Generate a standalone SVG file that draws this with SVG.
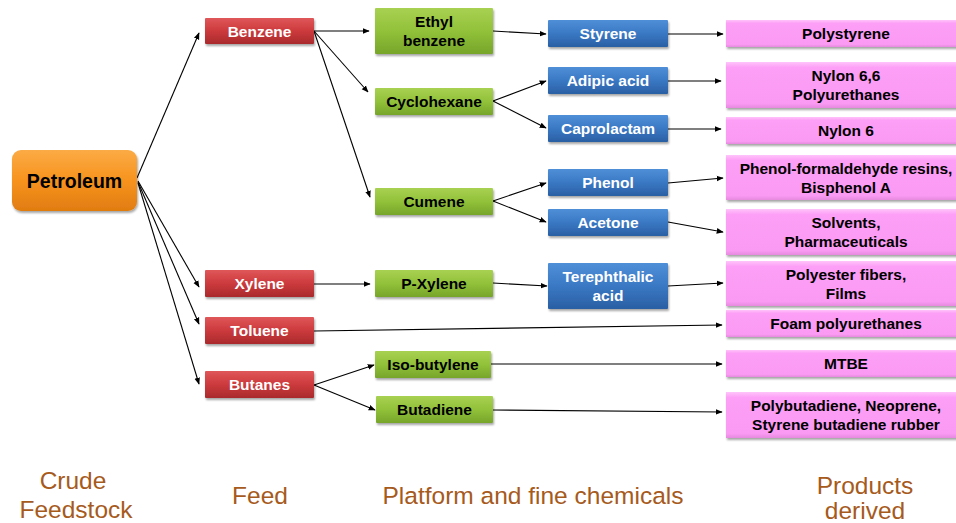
<svg xmlns="http://www.w3.org/2000/svg" width="956" height="523" viewBox="0 0 956 523">
<defs>
<linearGradient id="gRed" x1="0" y1="0" x2="0" y2="1"><stop offset="0" stop-color="#e0575a"/><stop offset="0.5" stop-color="#cc3a3d"/><stop offset="1" stop-color="#a92a2c"/></linearGradient>
<linearGradient id="gGreen" x1="0" y1="0" x2="0" y2="1"><stop offset="0" stop-color="#a8d152"/><stop offset="0.5" stop-color="#92c13a"/><stop offset="1" stop-color="#76a52a"/></linearGradient>
<linearGradient id="gBlue" x1="0" y1="0" x2="0" y2="1"><stop offset="0" stop-color="#4f8fd8"/><stop offset="0.5" stop-color="#3a78c4"/><stop offset="1" stop-color="#2a5fa3"/></linearGradient>
<linearGradient id="gPink" x1="0" y1="0" x2="0" y2="1"><stop offset="0" stop-color="#ffc4fb"/><stop offset="0.12" stop-color="#fd9ff6"/><stop offset="0.9" stop-color="#fb9af3"/><stop offset="1" stop-color="#e58ade"/></linearGradient>
<linearGradient id="gOrange" x1="0" y1="0" x2="0" y2="1"><stop offset="0" stop-color="#fbab45"/><stop offset="0.5" stop-color="#f7931e"/><stop offset="1" stop-color="#e07c10"/></linearGradient>
<filter id="sh" x="-10%" y="-20%" width="120%" height="160%"><feDropShadow dx="1" dy="2" stdDeviation="1.2" flood-color="#000" flood-opacity="0.35"/></filter>
<marker id="ah" viewBox="0 0 10 10" refX="9" refY="5" markerWidth="7" markerHeight="7" orient="auto" markerUnits="userSpaceOnUse"><path d="M0,1 L10,5 L0,9 z" fill="#000"/></marker>
</defs>
<style>
.red{fill:url(#gRed);filter:url(#sh)}
.green{fill:url(#gGreen);filter:url(#sh)}
.blue{fill:url(#gBlue);filter:url(#sh)}
.pink{fill:url(#gPink);filter:url(#sh)}
.orange{fill:url(#gOrange);filter:url(#sh)}
text{font-family:"Liberation Sans",Arial,sans-serif;font-weight:bold;font-size:15.5px;text-anchor:middle}
.w{fill:#fff}
.k{fill:#000}
.lab{font-weight:normal;font-size:24.5px;fill:#a65a1c}
#connectors line{stroke:#000;stroke-width:1.1;marker-end:url(#ah)}
</style>
<g id="connectors">
<line x1="137" y1="178" x2="199" y2="33"/>
<line x1="138" y1="181" x2="199" y2="287"/>
<line x1="138" y1="182" x2="199" y2="324"/>
<line x1="138" y1="183" x2="199" y2="384"/>
<line x1="314" y1="31" x2="369" y2="31"/>
<line x1="314" y1="31" x2="368" y2="92"/>
<line x1="314" y1="31" x2="370" y2="197"/>
<line x1="493" y1="31" x2="546" y2="34"/>
<line x1="493" y1="101" x2="546" y2="81"/>
<line x1="493" y1="101" x2="546" y2="128"/>
<line x1="493" y1="201" x2="546" y2="183"/>
<line x1="493" y1="201" x2="546" y2="222"/>
<line x1="668" y1="34" x2="723" y2="34"/>
<line x1="668" y1="81" x2="721" y2="81"/>
<line x1="668" y1="129" x2="721" y2="129"/>
<line x1="668" y1="183" x2="723" y2="178"/>
<line x1="668" y1="222" x2="723" y2="232"/>
<line x1="314" y1="284" x2="370" y2="284"/>
<line x1="493" y1="283" x2="547" y2="286"/>
<line x1="668" y1="286" x2="723" y2="283"/>
<line x1="314" y1="331" x2="722" y2="325"/>
<line x1="314" y1="385" x2="374" y2="365"/>
<line x1="314" y1="385" x2="375" y2="410"/>
<line x1="491" y1="364" x2="722" y2="364"/>
<line x1="493" y1="410" x2="722" y2="412"/>
</g>
<g id="petroleum"><rect class="orange" x="12" y="150" width="125" height="61" rx="9"/><text class="k" x="74.5" y="188" style="font-size:19.5px">Petroleum</text></g>
<g id="benzene"><rect class="red" x="205" y="18" width="109" height="26" rx="1"/><text class="w" x="259.5" y="36.5">Benzene</text></g>
<g id="xylene"><rect class="red" x="205" y="270" width="109" height="27" rx="1"/><text class="w" x="259.5" y="289">Xylene</text></g>
<g id="toluene"><rect class="red" x="205" y="317" width="109" height="27" rx="1"/><text class="w" x="259.5" y="336">Toluene</text></g>
<g id="butanes"><rect class="red" x="205" y="371" width="109" height="27" rx="1"/><text class="w" x="259.5" y="390">Butanes</text></g>
<g id="ethylbenzene"><rect class="green" x="375" y="8" width="118" height="46" rx="1"/><text class="k" x="434" y="27">Ethyl</text><text class="k" x="434" y="46">benzene</text></g>
<g id="cyclohexane"><rect class="green" x="375" y="88" width="118" height="27" rx="1"/><text class="k" x="434" y="107">Cyclohexane</text></g>
<g id="cumene"><rect class="green" x="375" y="188" width="118" height="27" rx="1"/><text class="k" x="434" y="207">Cumene</text></g>
<g id="pxylene"><rect class="green" x="375" y="270" width="118" height="27" rx="1"/><text class="k" x="434" y="289">P-Xylene</text></g>
<g id="isobutylene"><rect class="green" x="375" y="351" width="116" height="27" rx="1"/><text class="k" x="433" y="370">Iso-butylene</text></g>
<g id="butadiene"><rect class="green" x="376" y="396" width="117" height="27" rx="1"/><text class="k" x="434.5" y="415">Butadiene</text></g>
<g id="styrene"><rect class="blue" x="548" y="20" width="120" height="27" rx="1"/><text class="w" x="608" y="39">Styrene</text></g>
<g id="adipic"><rect class="blue" x="548" y="67" width="120" height="27" rx="1"/><text class="w" x="608" y="86">Adipic acid</text></g>
<g id="caprolactam"><rect class="blue" x="548" y="115" width="120" height="27" rx="1"/><text class="w" x="608" y="134">Caprolactam</text></g>
<g id="phenol"><rect class="blue" x="548" y="169" width="120" height="27" rx="1"/><text class="w" x="608" y="188">Phenol</text></g>
<g id="acetone"><rect class="blue" x="548" y="209" width="120" height="27" rx="1"/><text class="w" x="608" y="228">Acetone</text></g>
<g id="terephthalic"><rect class="blue" x="548" y="263" width="120" height="46" rx="1"/><text class="w" x="608" y="282">Terephthalic</text><text class="w" x="608" y="301">acid</text></g>
<g id="polystyrene"><rect class="pink" x="726" y="20" width="234" height="27"/><text class="k" x="846" y="39">Polystyrene</text></g>
<g id="nylon66"><rect class="pink" x="726" y="62" width="234" height="46"/><text class="k" x="846" y="81">Nylon 6,6</text><text class="k" x="846" y="100">Polyurethanes</text></g>
<g id="nylon6"><rect class="pink" x="726" y="117" width="234" height="27"/><text class="k" x="846" y="136">Nylon 6</text></g>
<g id="pf"><rect class="pink" x="726" y="155" width="234" height="45"/><text class="k" x="846" y="174">Phenol-formaldehyde resins,</text><text class="k" x="846" y="193">Bisphenol A</text></g>
<g id="solvents"><rect class="pink" x="726" y="209" width="234" height="46"/><text class="k" x="846" y="228">Solvents,</text><text class="k" x="846" y="247">Pharmaceuticals</text></g>
<g id="polyester"><rect class="pink" x="726" y="261" width="234" height="45"/><text class="k" x="846" y="280">Polyester fibers,</text><text class="k" x="846" y="299">Films</text></g>
<g id="foam"><rect class="pink" x="726" y="310" width="234" height="27"/><text class="k" x="846" y="329">Foam polyurethanes</text></g>
<g id="mtbe"><rect class="pink" x="726" y="350" width="234" height="27"/><text class="k" x="846" y="369">MTBE</text></g>
<g id="polybutadiene"><rect class="pink" x="726" y="392" width="234" height="46"/><text class="k" x="846" y="411">Polybutadiene, Neoprene,</text><text class="k" x="846" y="430">Styrene butadiene rubber</text></g>
<g id="labels">
<text class="lab" x="73" y="489">Crude</text>
<text class="lab" x="76" y="518">Feedstock</text>
<text class="lab" x="260" y="504">Feed</text>
<text class="lab" x="533" y="504">Platform and fine chemicals</text>
<text class="lab" x="865" y="494">Products</text>
<text class="lab" x="865" y="519">derived</text>
</g>
</svg>
